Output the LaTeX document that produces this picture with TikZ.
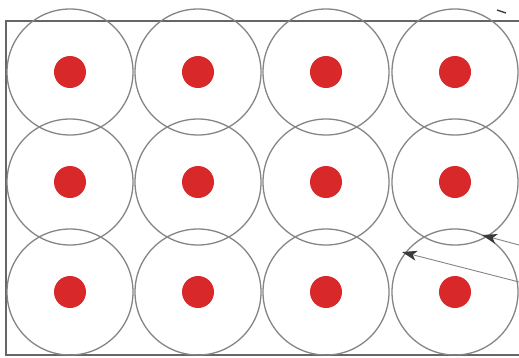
\documentclass[tikz,border=0pt]{standalone}
\usetikzlibrary{arrows.meta}
\definecolor{ringgray}{HTML}{858585}
\definecolor{framegray}{HTML}{666666}
\definecolor{dotred}{HTML}{D8282A}
\definecolor{arrowgray}{HTML}{3A3A3A}
\begin{document}
\begin{tikzpicture}[x=1pt,y=-1pt,
  ring/.style={draw=ringgray,line width=1.3pt,circle,minimum size=126pt,inner sep=0pt},
  dot/.style={fill=dotred,circle,minimum size=32pt,inner sep=0pt},
  frameline/.style={draw=framegray,line width=1.8pt},
  pointer/.style={draw=ringgray,line width=0.9pt,-{Stealth[length=15pt,width=10pt,inset=4pt,color=arrowgray,fill=arrowgray]}}]
\useasboundingbox (0,0) rectangle (519,357);
\fill[white] (0,0) rectangle (519,357);
% frame
\draw[frameline] (519,21) -- (6,21) -- (6,355) -- (519,355);
% rings and dots
\foreach \c/\x in {1/70,2/198,3/326,4/455}{
  \foreach \r/\y in {1/72,2/182,3/292}{
    \node[ring] (ring\r\c) at (\x,\y) {};
    \node[dot] (dot\r\c) at (\x,\y) {};
  }
}
% pointers
\coordinate (srcA) at (519,282);
\coordinate (tipA) at (402,252);
\coordinate (srcB) at (519,245);
\coordinate (tipB) at (482,235);
\draw[pointer] (srcA) -- (tipA);
\draw[pointer] (srcB) -- (tipB);
% small mark top right
\coordinate (markA) at (497,10);
\coordinate (markB) at (506,13);
\draw[arrowgray,line width=1.4pt] (markA) -- (markB);
\end{tikzpicture}
\end{document}
